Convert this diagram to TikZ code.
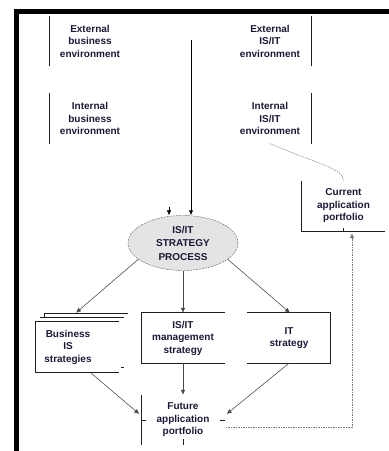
\documentclass[tikz,border=0pt]{standalone}
\usepackage{fontspec}
\setmainfont{Liberation Sans}
\usetikzlibrary{shapes.geometric,arrows.meta,calc}
\definecolor{txtcol}{RGB}{25,25,55}

\begin{document}
\begin{tikzpicture}[x=1pt,y=1pt,yscale=-1,xscale=1,
  lbl/.style={align=center,font=\fontsize{10}{12.5}\selectfont\bfseries,text=txtcol,inner sep=0pt},
  box/.style={minimum width=83pt,minimum height=50pt,inner sep=0pt},
  edge/.style={draw={rgb,255:red,30;green,30;blue,30},line width=0.8pt},
  conn/.style={draw={rgb,255:red,70;green,70;blue,70},line width=0.55pt,-{Latex[length=5pt,width=4.5pt]}},
  dots/.style={draw={rgb,255:red,120;green,120;blue,120},line width=0.5pt,dash pattern=on 1.5pt off 1pt}]
\path[use as bounding box] (0,0) rectangle (389,451);

%Shape: Frame
\fill (14,9) rectangle (389,14);
\fill (14,9) rectangle (19,451);

%Environments
\node[lbl,box,minimum width=80pt] (extbus) at (90,41) {External\\business\\environment};
\node[lbl,box,minimum width=82pt] (extit) at (270,41) {External\\IS/IT\\environment};
\node[lbl,box,minimum width=80pt] (intbus) at (90,118.5) {Internal\\business\\environment};
\node[lbl,box,minimum width=82pt] (intit) at (270,118.5) {Internal\\IS/IT\\environment};
\draw[edge] (extbus.north west) -- (extbus.south west);
\draw[edge] (intbus.north west) -- (intbus.south west);
\draw[edge] (extit.north east) -- (extit.south east);
\draw[edge] (intit.north east) -- (intit.south east);

%Shape: Ellipse
\node[ellipse,lbl,font=\fontsize{10}{13.5}\selectfont\bfseries,draw={rgb,255:red,90;green,90;blue,90},dash pattern=on 2pt off 1pt,fill={rgb,255:red,228;green,228;blue,228},minimum width=110pt,minimum height=55pt] (process) at (183,243) {IS/IT\\STRATEGY\\PROCESS};

%Straight Lines
\coordinate (feed) at (191,40);
\coordinate (feedb) at (169,207);
\draw[conn,draw=black,line width=0.9pt] (feed) -- (feed |- process.north);
\draw[conn,draw=black] (feedb) -- (feedb |- process.north);

%Shape: Current portfolio
\node[lbl,box] (current) at (343.5,206) {Current\\application\\portfolio};
\draw[edge] (current.north west) -- (current.south west) -- (current.south east);
\draw[edge,line width=0.5pt] (343,228) -- (343,231);

%Shape: Strategy boxes
\node[box] (busis) at (77.5,347) {};
\node[lbl] (busislbl) at (68,347) {Business\\IS\\strategies};
\draw[edge] (busis.north east) -- (busis.north west) -- (busis.south west) -- (busis.south east);
\draw[edge] (40,317) -- (124,317);
\draw[edge] (44,317) -- (44,313) -- (128,313);
\draw[edge] (121,367) -- (124,367);
\node[lbl,box] (mgmt) at (183,338) {IS/IT\\management\\strategy};
\draw[edge] (mgmt.north east) -- (mgmt.north west) -- (mgmt.south west) -- (mgmt.south east);
\node[lbl,box] (itstrat) at (289,338) {IT\\strategy};
\draw[edge] (itstrat.north west) -- (itstrat.north east) -- (itstrat.south east) -- (itstrat.south west);

%Shape: Future portfolio
\node[lbl,box] (future) at (183,420) {Future\\application\\portfolio};
\draw[edge] (future.north west) -- (future.south west);
\draw[edge] (142,420) -- (146,420);
\draw[edge] (220,420) -- (225,420);
\draw[edge] (183,439) -- (183,445);

%Connectors
\draw[conn] (process.200) -- ($(busis.north)+(-1.5,-9)$);
\draw[conn] (process.south) -- (mgmt.north);
\draw[conn] (process.-20) -- ($(itstrat.north)+(1,0)$);
\draw[conn] ($(busis.south)+(12.5,0)$) -- ($(future.west)+(-2,-6)$);
\draw[conn] (mgmt.south) -- (future.north);
\draw[conn] (itstrat.south) -- ($(future.east)+(2,-6)$);
\draw[dots] (intit.south) .. controls (320,165) and (343,168) .. (current.north);
\draw[dots,-{Latex[length=5pt,width=4.5pt]}] ($(future.east)+(1,7)$) -| ($(current.south)+(8.5,2)$);

\end{tikzpicture}
\end{document}
